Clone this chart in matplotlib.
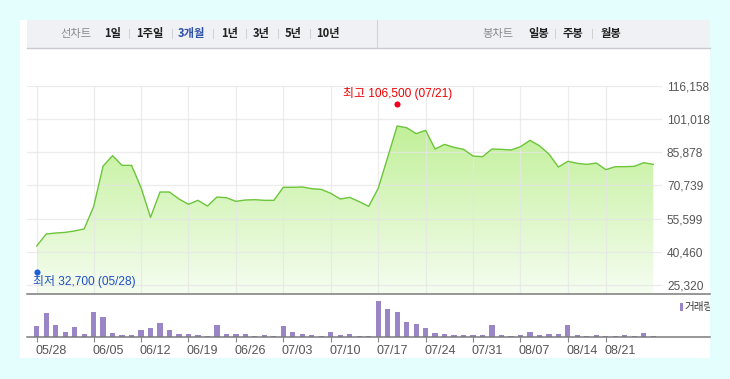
import matplotlib
matplotlib.use("Agg")
import matplotlib.pyplot as plt
import numpy as np
from matplotlib import font_manager
from matplotlib.patches import Rectangle
from matplotlib.lines import Line2D
from matplotlib.transforms import ScaledTranslation, Bbox
import matplotlib.colors as mcolors

# ---------------- data ----------------
dates = ["05/28", "05/29", "06/01", "06/02", "06/03", "06/04", "06/05", "06/08", "06/09", "06/10",
         "06/11", "06/12", "06/15", "06/16", "06/17", "06/18", "06/19", "06/22", "06/23", "06/24",
         "06/25", "06/26", "06/29", "06/30", "07/01", "07/02", "07/03", "07/06", "07/07", "07/08",
         "07/09", "07/10", "07/13", "07/14", "07/15", "07/16", "07/17", "07/20", "07/21", "07/22",
         "07/23", "07/24", "07/27", "07/28", "07/29", "07/30", "07/31", "08/03", "08/04", "08/05",
         "08/06", "08/07", "08/10", "08/11", "08/12", "08/13", "08/14", "08/18", "08/19", "08/20",
         "08/21", "08/24", "08/25", "08/26", "08/27", "08/28"]
close = [43100, 48550, 49000, 49300, 49950, 50850, 61000, 79550, 84250, 79850,
         79850, 69700, 56150, 67700, 67700, 64500, 62100, 63900, 61300, 65400,
         65100, 63450, 64050, 64200, 63900, 63900, 69850, 69850, 70000, 69200,
         68900, 67100, 64500, 65250, 63300, 61150, 69350, 83500, 97800, 97000,
         94300, 95800, 87300, 89400, 88050, 87150, 84100, 83800, 87300, 87150,
         86850, 88350, 91250, 88800, 85000, 79100, 81700, 80750, 80300, 80900,
         77900, 79250, 79250, 79400, 81050, 80300]
volume = [340, 730, 370, 160, 310, 100, 760, 610, 130, 70,
          70, 220, 280, 430, 220, 100, 100, 70, 40, 370,
          100, 100, 100, 40, 70, 40, 340, 160, 100, 70,
          40, 160, 70, 100, 40, 40, 1090, 850, 760, 460,
          400, 280, 130, 100, 70, 70, 70, 70, 370, 70,
          40, 70, 160, 70, 100, 100, 370, 70, 40, 70,
          40, 40, 70, 40, 130, 40]
y_ticks = [25320, 40460, 55599, 70739, 85878, 101018, 116158]
x_tick_labels = ["05/28", "06/05", "06/12", "06/19", "06/26", "07/03", "07/10",
                 "07/17", "07/24", "07/31", "08/07", "08/14", "08/21"]
high_value, high_date = 106500, "07/21"
low_value, low_date = 32700, "05/28"
header_left = ["1일", "1주일", "3개월", "1년", "3년", "5년", "10년"]
header_right = ["일봉", "주봉", "월봉"]

# ---------------- fonts ----------------
names = {f.name for f in font_manager.fontManager.ttflist}
NUM = "Liberation Sans Narrow" if "Liberation Sans Narrow" in names else "Liberation Sans"
KR = "Noto Sans CJK KR"
FAM = [NUM, KR, "DejaVu Sans"]
plt.rcParams["font.family"] = FAM

W, H = 730, 379
fig = plt.figure(figsize=(W / 100, H / 100), dpi=100, facecolor="#e4fdfd")


def fr(x0, y0, x1, y1):
    """pixel box (top-left origin) -> figure fraction rect"""
    return [x0 / W, 1 - y1 / H, (x1 - x0) / W, (y1 - y0) / H]


def fx(x):
    return x / W


def fy(y):
    return 1 - y / H


# white panel and header
fig.patches.append(Rectangle((fx(20), fy(358)), (690) / W, (338) / H,
                             transform=fig.transFigure, facecolor="white", edgecolor="none", zorder=-3))
fig.patches.append(Rectangle((fx(27), fy(48)), (683) / W, (28) / H,
                             transform=fig.transFigure, facecolor="#f0f1f5", edgecolor="none", zorder=-2))
fig.add_artist(Line2D([fx(27), fx(710)], [fy(48), fy(48)], transform=fig.transFigure,
                      color="#c9cad0", lw=1.0))
fig.add_artist(Line2D([fx(377), fx(377)], [fy(20), fy(48)], transform=fig.transFigure,
                      color="#d3d4d9", lw=0.8))

hy = fy(33.5)
HFS = 8.1
fig.text(fx(60), hy, "선차트", family=[KR], fontsize=HFS, color="#8a8a8a", va="center")
hx = [104, 136.5, 178, 221.5, 253, 285, 316.5]
seps = [129, 172, 213, 246, 277.7, 310]
for i, (t, x) in enumerate(zip(header_left, hx)):
    fig.text(fx(x), hy, t, family=[KR], fontsize=HFS, fontweight="bold",
             color="#2f51a8" if t == "3개월" else "#222222", va="center")
for x in seps + [555.4, 592.2]:
    fig.add_artist(Line2D([fx(x), fx(x)], [fy(29), fy(38)], transform=fig.transFigure,
                          color="#d0d0d0", lw=0.7))
fig.text(fx(482.5), hy, "봉차트", family=[KR], fontsize=HFS, color="#8a8a8a", va="center")
for t, x in zip(header_right, [528, 563, 600.5]):
    fig.text(fx(x), hy, t, family=[KR], fontsize=HFS, fontweight="bold", color="#222222", va="center")

# ---------------- price axes ----------------
x = np.arange(len(close))
tick_idx = [dates.index(d) for d in x_tick_labels]
ax = fig.add_axes(fr(26.7, 85.7, 661.7, 294.3))
ax.set_facecolor("none")
for s in ax.spines.values():
    s.set_visible(False)

# gradient fill
ymax = max(close)
grad = np.linspace(0, 1, 256).reshape(-1, 1)
cmap = mcolors.LinearSegmentedColormap.from_list("g", ["#c1f098", "#f6fdf1"])
img = ax.imshow(grad, cmap=cmap, aspect="auto", extent=[x[0], x[-1], 21069, ymax],
                origin="upper", zorder=1, interpolation="bilinear")
poly = ax.fill_between(x, close, 21069, facecolor="none", edgecolor="none")
path = poly.get_paths()[0]
img.set_clip_path(path, transform=ax.transData)
ax.set_xlim(-1.054, 65.89)
ax.set_ylim(21069, 116158)

ax.plot(x, close, color="#6cc53a", lw=1.0, zorder=3)

ax.set_xticks(tick_idx)
ax.set_yticks(y_ticks)
ax.grid(True, color="#e6e6e6", lw=0.9, zorder=2, alpha=0.75)
ax.set_axisbelow(False)
ax.tick_params(axis="x", length=0, labelbottom=False)
ax.yaxis.tick_right()
ax.tick_params(axis="y", length=0, pad=3.8, labelsize=8.6, labelcolor="#555555")
ax.set_yticklabels([f"{v:,}" for v in y_ticks], family=[NUM])

# high / low markers
hi_i = dates.index(high_date)
lo_i = dates.index(low_date)
up = ax.transData + ScaledTranslation(0, 3 / 100, fig.dpi_scale_trans)
dn = ax.transData + ScaledTranslation(0, -3 / 100, fig.dpi_scale_trans)
ax.plot([hi_i], [high_value], "o", color="#f0001e", ms=4.4, mec="none", transform=up, zorder=5, clip_on=False)
ax.plot([lo_i], [low_value], "o", color="#1d5fd8", ms=4.4, mec="none", transform=dn, zorder=5, clip_on=False)
ax.annotate(f"최고 {high_value:,} ({high_date})", xy=(hi_i, high_value), xycoords="data",
            xytext=(0, 13.8), textcoords="offset pixels", ha="center", va="center",
            fontsize=8.6, color="#ee0000", family=FAM, annotation_clip=False)
ax.annotate(f"최저 {low_value:,} ({low_date})", xy=(lo_i, low_value), xycoords="data",
            xytext=(-3.7, -13.2), textcoords="offset pixels", ha="left", va="center",
            fontsize=8.6, color="#1d4fc8", family=FAM, annotation_clip=False)

# ---------------- volume axes ----------------
vx = fig.add_axes(fr(26.7, 294.3, 661.7, 337.3))
vx.set_facecolor("none")
vx.bar(x, volume, width=0.55, color="#9a85c6", edgecolor="none")
vx.set_xlim(-1.054, 65.89)
vx.set_ylim(0, 1290)
for s in vx.spines.values():
    s.set_visible(False)
vx.set_yticks([])
vx.set_xticks(tick_idx)
vx.set_xticklabels(x_tick_labels, family=[NUM], fontsize=9, color="#555555", ha="left")
vx.tick_params(axis="x", length=3.5, width=0.8, color="#888888", pad=2.0)
offs = ScaledTranslation(-1.5 / 100, 0, fig.dpi_scale_trans)
for lab in vx.get_xticklabels():
    lab.set_transform(lab.get_transform() + offs)

# axis lines across to panel edge
for yy in (294.3, 337.3):
    fig.add_artist(Line2D([fx(26.7), fx(710)], [fy(yy), fy(yy)], transform=fig.transFigure,
                          color="#7b7b7b", lw=1.1, zorder=6))

# volume legend
fig.patches.append(Rectangle((fx(680), fy(310.7)), 3 / W, 8 / H, transform=fig.transFigure,
                             facecolor="#9a85c6", edgecolor="none"))
lt = fig.text(fx(685), fy(306.8), "거래량", family=[KR], fontsize=7.6, color="#333333", va="center")
lt.set_clip_box(Bbox.from_extents(20, H - 358, 710, H - 20))
lt.set_clip_on(True)

fig.savefig("out.png", dpi=100, facecolor=fig.get_facecolor())
